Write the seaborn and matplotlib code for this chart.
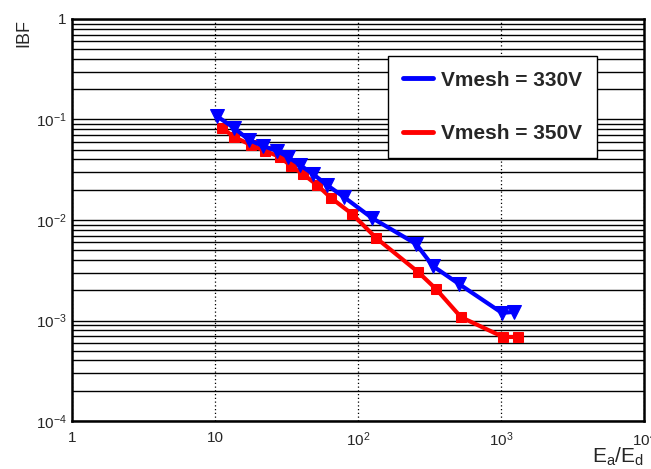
import numpy as np
import pandas as pd
import matplotlib
matplotlib.use("Agg")
import matplotlib.pyplot as plt
from matplotlib.lines import Line2D
from matplotlib.ticker import LogLocator, NullFormatter, FixedLocator
import seaborn as sns

# ---- data ----
ratio_330 = [10.3, 13.6, 17.3, 21.7, 27.2, 32.4, 39.3, 48.4, 60.7, 79.8, 125, 255, 334, 508, 1016, 1233]
ibf_330 = [0.108, 0.0823, 0.0625, 0.0545, 0.0486, 0.0424, 0.0352, 0.0287, 0.0223, 0.0169,
           0.0105, 0.00577, 0.00348, 0.00231, 0.00119, 0.00122]
ratio_350 = [11.2, 13.6, 17.9, 22.4, 28.5, 34.0, 41.2, 51.7, 64.7, 90.8, 134, 263, 351, 525, 1033, 1315]
ibf_350 = [0.0823, 0.0670, 0.0557, 0.0486, 0.0424, 0.0344, 0.0287, 0.0223, 0.0166, 0.0115,
           0.00662, 0.00304, 0.00206, 0.00108, 0.000686, 0.000686]
series_labels = ["Vmesh = 330V", "Vmesh = 350V"]
x_tick_vals = [1, 10, 100, 1000, 10000]
x_tick_labels = ["1", "10", "$10^{2}$", "$10^{3}$", "$10^{4}$"]
y_tick_vals = [1e-4, 1e-3, 1e-2, 1e-1, 1]
y_tick_labels = ["$10^{-4}$", "$10^{-3}$", "$10^{-2}$", "$10^{-1}$", "1"]

sns.set_style("white")
plt.rcParams["font.family"] = ["Liberation Sans", "DejaVu Sans"]
plt.rcParams["mathtext.fontset"] = "custom"
plt.rcParams["mathtext.rm"] = "Liberation Sans"
plt.rcParams["mathtext.it"] = "Liberation Sans"
plt.rcParams["mathtext.bf"] = "Liberation Sans:bold"
plt.rcParams["mathtext.default"] = "regular"

fig = plt.figure(figsize=(6.51, 4.69), dpi=100)
ax = fig.add_axes([72 / 651, 1 - 421 / 469, (644 - 72) / 651, (421 - 19) / 469])

ax.set_xscale("log")
ax.set_yscale("log")
ax.set_xlim(1, 1e4)
ax.set_ylim(1e-4, 1)

# horizontal grid at every major+minor decade tick
ax.yaxis.set_major_locator(FixedLocator(y_tick_vals))
ax.yaxis.set_minor_locator(LogLocator(base=10, subs=np.arange(2, 10), numticks=20))
ax.yaxis.set_minor_formatter(NullFormatter())
ax.grid(True, axis="y", which="both", color="black", linewidth=1.0, linestyle="-")
ax.xaxis.set_major_locator(FixedLocator(x_tick_vals))
ax.xaxis.set_minor_locator(LogLocator(base=10, subs=np.arange(2, 10), numticks=20))
ax.xaxis.set_minor_formatter(NullFormatter())
ax.grid(True, axis="x", which="major", color="black", linewidth=0.9, linestyle=(0, (1, 2)))

df330 = pd.DataFrame({"ratio": ratio_330, "ibf": ibf_330})
df350 = pd.DataFrame({"ratio": ratio_350, "ibf": ibf_350})
sns.lineplot(data=df350, x="ratio", y="ibf", ax=ax, color="#ff0000", linewidth=3.0,
             marker="s", markersize=7, markeredgecolor="#ff0000", sort=False, zorder=5)
sns.lineplot(data=df330, x="ratio", y="ibf", ax=ax, color="#0000ff", linewidth=3.0,
             marker="v", markersize=9.5, markeredgecolor="#0000ff", sort=False, zorder=6)

ax.set_xticks(x_tick_vals)
ax.set_xticklabels(x_tick_labels, fontsize=11)
ax.set_yticks(y_tick_vals)
ax.set_yticklabels(y_tick_labels, fontsize=11)
ax.tick_params(axis="x", which="major", direction="in", length=9, width=1, pad=7, top=False)
ax.tick_params(axis="x", which="minor", direction="in", length=5, width=1, top=False)
ax.tick_params(axis="y", which="both", direction="in", length=0, pad=4, right=False)

for sp in ax.spines.values():
    sp.set_color("black")
    sp.set_linewidth(1.8)

ax.set_xlabel("$E_{a}/E_{d}$", fontsize=15, loc="right")
ax.xaxis.set_label_coords(1.0, -0.062)
ax.set_ylabel("IBF", fontsize=13, loc="top")
ax.yaxis.set_label_coords(-0.07, 1.0)

handles = [Line2D([0], [0], color="#0000ff", linewidth=3.5),
           Line2D([0], [0], color="#ff0000", linewidth=3.5)]
leg = ax.legend(handles, series_labels, loc="upper left",
                bbox_to_anchor=((388 - 72) / 572, 1 - (56 - 19) / 402),
                fancybox=False, framealpha=1, edgecolor="black",
                prop={"weight": "bold", "size": 15}, handlelength=1.45, labelspacing=1.65,
                borderpad=0.7, handletextpad=0.4, borderaxespad=0)
leg.get_frame().set_linewidth(1.0)
leg.set_zorder(10)

fig.savefig("out.png", dpi=100)
